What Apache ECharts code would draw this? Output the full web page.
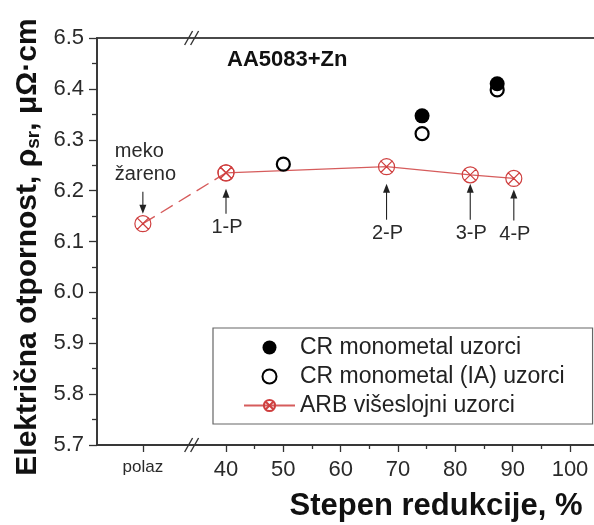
<!DOCTYPE html>
<html>
<head>
<meta charset="utf-8">
<script src="https://cdn.jsdelivr.net/npm/echarts@6/dist/echarts.min.js"></script>
<style>
  html, body { margin: 0; padding: 0; overflow: hidden; background: #fff; }
  #chart { width: 620px; height: 525px; }
</style>
</head>
<body>
<div id="chart"></div>
<script>
// Reduction degree (%) — "polaz" is the annealed starting state placed left of the axis break
const POLAZ = 25.5;
const BREAK_AT = 34;
const xTickValues = [POLAZ, 40, 50, 60, 70, 80, 90, 100];
const xMinorTicks = [45, 55, 65, 75, 85, 95];

// ARB multilayer samples
const arbX = [POLAZ, 40, 68, 82.6, 90.2];
const arbY = [6.135, 6.235, 6.247, 6.231, 6.224];
const arbNotes = ['meko\nžareno', '1-P', '2-P', '3-P', '4-P'];

// CR monometal samples
const crX = [74.2, 87.3];
const crY = [6.347, 6.41];

// CR monometal (IA) samples
const iaX = [50, 74.2, 87.3];
const iaY = [6.252, 6.312, 6.398];

const pairs = (xs, ys) => xs.map((x, i) => [x, ys[i]]);

const RED = '#cf3f3f';
const LINE_RED = '#d65c5c';
const FONT = '"Liberation Sans", Arial, sans-serif';
const crossedCircle = 'path://M1,10A9,9 0 1,1 19,10A9,9 0 1,1 1,10ZM3.2,3.2L16.8,16.8M16.8,3.2L3.2,16.8';

const chart = echarts.init(document.getElementById('chart'), null, { renderer: 'canvas' });

const option = {
  animation: false,
  backgroundColor: '#fff',
  textStyle: { fontFamily: FONT },
  grid: {
    left: 97, top: 38, bottom: 80, right: 21.33,
    show: true, borderColor: '#4a4a4a', borderWidth: 1.8, backgroundColor: 'transparent'
  },
  xAxis: [
    {
      type: 'value', min: 17.5, max: 105, position: 'bottom',
      splitLine: { show: false },
      axisLine: { show: true, onZero: false, lineStyle: { color: '#333', width: 1.6 } },
      axisTick: { show: true, length: 7, customValues: xTickValues, lineStyle: { color: '#333', width: 1.3 } },
      axisLabel: {
        customValues: xTickValues, margin: 14, color: '#2a2a2a', fontSize: 22, fontFamily: FONT,
        formatter: v => (v === POLAZ ? '{s|polaz}' : String(v)),
        rich: { s: { fontSize: 17, fontFamily: FONT, color: '#2a2a2a', padding: [0, 0, 2, 0] } }
      }
    },
    {
      type: 'value', min: 17.5, max: 105, position: 'bottom',
      splitLine: { show: false },
      axisLine: { show: false, onZero: false },
      axisTick: { show: true, length: 4, customValues: xMinorTicks, lineStyle: { color: '#333', width: 1.3 } },
      axisLabel: { show: false }
    }
  ],
  yAxis: {
    type: 'value', min: 5.7, max: 6.5, interval: 0.1,
    splitLine: { show: false },
    axisLine: { show: true, onZero: false, lineStyle: { color: '#333', width: 1.6 } },
    axisTick: { show: true, length: 8, lineStyle: { color: '#333', width: 1.3 } },
    minorTick: { show: true, splitNumber: 2, length: 5, lineStyle: { color: '#333', width: 1.3 } },
    axisLabel: { margin: 13, color: '#2a2a2a', fontSize: 22, fontFamily: FONT, formatter: v => v.toFixed(1) }
  },
  legend: {
    orient: 'vertical',
    left: 213, top: 328,
    padding: [8, 28, 7, 30],
    itemGap: 6,
    itemWidth: 51, itemHeight: 14,
    borderColor: '#666', borderWidth: 1.2,
    backgroundColor: '#fff',
    textStyle: { fontSize: 23, color: '#222', fontFamily: FONT },
    data: ['CR monometal uzorci', 'CR monometal (IA) uzorci', 'ARB višeslojni uzorci']
  },
  series: [
    {
      name: 'ARB višeslojni uzorci (start)',
      type: 'line',
      data: pairs(arbX.slice(0, 2), arbY.slice(0, 2)),
      symbol: crossedCircle, symbolSize: 16,
      itemStyle: { color: 'rgba(255,255,255,0)', borderColor: RED, borderWidth: 1.2, opacity: 1 },
      lineStyle: { color: LINE_RED, width: 1.4, type: [14, 7] },
      z: 3
    },
    {
      name: 'ARB višeslojni uzorci',
      type: 'line',
      data: pairs(arbX.slice(1), arbY.slice(1)),
      symbol: crossedCircle, symbolSize: 16,
      itemStyle: { color: 'rgba(255,255,255,0)', borderColor: RED, borderWidth: 1.2, opacity: 1 },
      lineStyle: { color: LINE_RED, width: 1.2 },
      z: 4
    },
    {
      name: 'CR monometal (IA) uzorci',
      type: 'scatter',
      data: pairs(iaX, iaY),
      symbol: 'circle', symbolSize: 13,
      itemStyle: { color: '#fff', borderColor: '#000', borderWidth: 2.2, opacity: 1 },
      z: 5
    },
    {
      name: 'CR monometal uzorci',
      type: 'scatter',
      data: pairs(crX, crY),
      symbol: 'circle', symbolSize: 15,
      itemStyle: { color: '#000', borderColor: '#000', borderWidth: 0, opacity: 1 },
      z: 6
    }
  ]
};

chart.setOption(option);

// Annotations, axis breaks and axis titles
function buildGraphics() {
  const px = (x, y) => chart.convertToPixel({ xAxisIndex: 0, yAxisIndex: 0 }, [x, y]);
  const els = [];
  const ARROW = '#222';

  const arrow = (x, tailY, tipY) => {
    const dir = tipY > tailY ? 1 : -1;
    els.push({
      type: 'line', z: 10,
      shape: { x1: x, y1: tailY, x2: x, y2: tipY - dir * 6 },
      style: { stroke: ARROW, lineWidth: 1.1 }
    });
    els.push({
      type: 'polygon', z: 10,
      shape: { points: [[x - 3.5, tipY - dir * 9], [x + 3.5, tipY - dir * 9], [x, tipY]] },
      style: { fill: ARROW }
    });
  };
  const note = (text, x, y, align) => {
    els.push({
      type: 'text', z: 10, x, y,
      style: { text, fill: '#2a2a2a', font: '20px ' + FONT, align: align || 'center', verticalAlign: 'middle', lineHeight: 23 }
    });
  };

  // "meko žareno": arrow points down onto the starting marker
  const p0 = px(arbX[0], arbY[0]);
  note(arbNotes[0], p0[0] - 28, p0[1] - 61, 'left');
  arrow(p0[0], p0[1] - 32, p0[1] - 10);

  // pass labels: arrows point up to the markers
  const labelOffsets = [0, 55, 67, 59, 56];
  const tipOffsets = [0, 16, 17, 9, 11];
  for (let i = 1; i < arbX.length; i++) {
    const p = px(arbX[i], arbY[i]);
    const labelY = p[1] + labelOffsets[i];
    note(arbNotes[i], p[0] + 1, labelY);
    arrow(p[0], labelY - 14, p[1] + tipOffsets[i]);
  }

  // axis break marks
  const b = px(BREAK_AT, 6.5);
  const bb = px(BREAK_AT, 5.7);
  [b[1], bb[1]].forEach(yy => {
    [-3, 3].forEach(dx => {
      els.push({
        type: 'line', z: 10,
        shape: { x1: b[0] + dx - 4, y1: yy + 7, x2: b[0] + dx + 4, y2: yy - 7 },
        style: { stroke: '#333', lineWidth: 1.4 }
      });
    });
  });

  // chart label
  els.push({
    type: 'text', z: 10, x: 227, y: 60,
    style: { text: 'AA5083+Zn', fill: '#111', font: 'bold 22px ' + FONT, align: 'left', verticalAlign: 'middle' }
  });

  // x axis title
  els.push({
    type: 'text', z: 10, x: 436, y: 506,
    style: { text: 'Stepen redukcije, %', fill: '#111', font: 'bold 31px ' + FONT, align: 'center', verticalAlign: 'middle' }
  });

  // y axis title with subscript
  els.push({
    type: 'text', z: 10, x: 25, y: 247, rotation: Math.PI / 2,
    style: {
      text: '{b|Električna otpornost, ρ}{s|sr}{b|, μΩ·cm}',
      align: 'center', verticalAlign: 'middle',
      rich: {
        b: { font: 'bold 30px ' + FONT, fill: '#111', lineHeight: 36, verticalAlign: 'bottom' },
        s: { font: 'bold 19px ' + FONT, fill: '#111', lineHeight: 36, verticalAlign: 'bottom' }
      }
    }
  });

  chart.setOption({ graphic: els });
}

buildGraphics();
</script>
</body>
</html>
